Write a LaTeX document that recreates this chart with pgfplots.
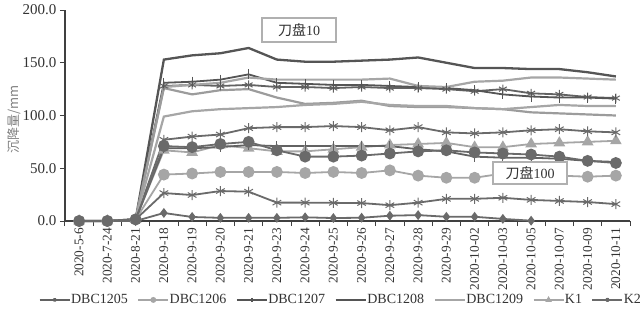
\documentclass[border=0pt]{standalone}
\usepackage{pgfplots}
\pgfplotsset{compat=1.18}
\usepackage{pgfplotstable}
\usepackage{fontspec}
\setmainfont{Liberation Serif}
\newfontfamily\cjk{Noto Sans CJK SC}
\definecolor{axc}{HTML}{404040}
\definecolor{txt}{HTML}{333333}
\definecolor{dkA}{HTML}{555555}
\definecolor{dkB}{HTML}{626262}
\definecolor{dkC}{HTML}{6A6A6A}
\definecolor{lt}{HTML}{A6A6A6}
\definecolor{ltB}{HTML}{9C9C9C}
\definecolor{bx}{HTML}{B0B0B0}
\pgfplotstableread{
x A B C D E F G H I J K L
0 0 0 0 0 0 0 0 0 0 0 0 0
1 0 0 0 0 0 0 0 0 0 0 0 0
2 1.5 1.5 1.5 1.5 1.5 1.5 1.5 1.5 1.5 1.5 1.5 1.5
3 153 127 131 128 126 99 77 69 71 67 44 26.5
4 157 129 132 129 120 104 80 69 70 65 45 24.6
5 159 131 134 128 124 106 82 70 73 72 46.5 28.4
6 164 136 139 129 125 107 88 72 75 69 46.5 27.8
7 153 134 131 127 117 108 89 71 67 66 46.5 17.4
8 151 134 130 127 111 110 89 71 61 66 45.5 17.4
9 151 134 129 126 112 111 90 71 61 68 46.5 17.2
10 152 134 129 127 114 113 89 71 62 70 45.5 17
11 153 135 128 126 109 110 86 71 64 72 48 15
12 155 128 127 126 108 109 89 68 66 73 43 17.4
13 150 127 126 125 108 109 84 66 67 74 41 21
14 145 132 124 123 107 107 83 61 65 70 41 21
15 145 133 120 125 106 106 84 60 64 70 45 22
16 144 136 118 121 103 108 86 60 63 73 44 20
17 144 136 117 120 102 110 87 59 61 74 43 19
18 141 135 117 117.5 101 109 85 57 57 75 42 18
19 137 134 116 116.5 100 109 84 56 55 76 43 16
}\data
\pgfplotstableread{
x M
0 0
1 0
2 0
3 7.6
4 3.8
5 3
6 3
7 3
8 3.5
9 2.8
10 3.1
11 5
12 5.6
13 4
14 4
15 2
16 0.3
}\dataM
\begin{document}
\begin{tikzpicture}
\begin{axis}[
  at={(0,0)}, anchor=south west,
  scale only axis, width=565bp, height=211bp,
  xmin=-0.5, xmax=19.5, ymin=0, ymax=200,
  axis x line*=bottom, axis y line*=left,
  axis line style={draw=axc, line width=1.2bp, -},
  xtick={-0.5,0.5,...,19.5},
  x tick label as interval,
  xticklabels={2020-5-6,2020-7-24,2020-8-21,2020-9-18,2020-9-19,2020-9-20,2020-9-21,2020-9-23,2020-9-24,2020-9-25,2020-9-26,2020-9-27,2020-9-28,2020-9-29,2020-10-02,2020-10-03,2020-10-05,2020-10-07,2020-10-09,2020-10-11},
  x tick label style={rotate=90, anchor=east, font=\fontsize{13.3bp}{13.3bp}\selectfont, text=txt, inner sep=2bp},
  ytick={0,50,...,200},
  y tick label style={/pgf/number format/fixed, /pgf/number format/fixed zerofill, /pgf/number format/precision=1, /pgf/number format/assume math mode=true, font=\fontsize{15bp}{15bp}\selectfont, text=txt},
  tick align=outside, major tick length=5bp,
  tick style={draw=axc, line width=1bp},
  ylabel={\cjk 沉降量/mm},
  ylabel style={at={(axis description cs:-0.09,0.48)}, anchor=center, rotate=0, font=\fontsize{13bp}{13bp}\selectfont, text=gray},
  clip=false,
  legend columns=7,
  legend style={at={(axis description cs:0.487,-0.374)}, anchor=center, draw=none, fill=none,
    font=\fontsize{14bp}{14bp}\selectfont, text=txt, nodes={inner xsep=0.5bp},
    /tikz/every even column/.append style={column sep=9bp}},
  legend image code/.code={\draw[mark repeat=2, mark phase=2, #1, mark options={scale=0.4}] plot coordinates {(0bp,0bp) (15bp,0bp) (30bp,0bp)};},
  every axis plot/.append style={line width=1.8bp},
]
% legend series
\addplot[color=dkB, mark=asterisk, mark size=4.5bp, mark options={line width=1bp}] table[x=x,y=D]{\data};
\addlegendentry{DBC1205}
\addplot[color=lt, mark=*, mark size=5bp] table[x=x,y=K]{\data};
\addlegendentry{DBC1206}
\addplot[color=dkA, mark=|, mark size=5bp, mark options={line width=1bp}] table[x=x,y=C]{\data};
\addlegendentry{DBC1207}
\addplot[color=dkA, line width=2.3bp] table[x=x,y=A]{\data};
\addlegendentry{DBC1208}
\addplot[color=lt, line width=2.2bp] table[x=x,y=B]{\data};
\addlegendentry{DBC1209}
\addplot[color=lt, mark=triangle*, mark size=5bp] table[x=x,y=J]{\data};
\addlegendentry{K1}
\addplot[color=dkC, mark=asterisk, mark size=5bp, mark options={line width=1bp}] table[x=x,y=G]{\data};
\addlegendentry{K2}
% other series
\addplot[forget plot, color=ltB, line width=2.2bp] table[x=x,y=E]{\data};
\addplot[forget plot, color=lt, line width=2.2bp] table[x=x,y=F]{\data};
\addplot[forget plot, color=dkB, mark=|, mark size=5bp, mark options={line width=1bp}] table[x=x,y=H]{\data};
\addplot[forget plot, color=dkC, mark=*, mark size=5bp] table[x=x,y=I]{\data};
\addplot[forget plot, color=dkC, mark=asterisk, mark size=5bp, mark options={line width=1bp}] table[x=x,y=L]{\data};
\addplot[forget plot, color=dkC, mark=diamond*, mark size=3.5bp] table[x=x,y=M]{\dataM};
\coordinate (b1) at (axis cs:7.79,181);
\coordinate (b2) at (axis cs:15.96,45.5);
\end{axis}
% annotation boxes
\node[draw=bx, line width=2bp, fill=white, minimum width=74bp, minimum height=24bp, inner sep=2bp, font=\fontsize{14bp}{14bp}\selectfont, text=txt] at (b1) {{\cjk 刀盘}10};
\node[draw=bx, line width=2bp, fill=white, minimum width=74bp, minimum height=22bp, inner sep=2bp, font=\fontsize{14bp}{14bp}\selectfont, text=txt] at (b2) {{\cjk 刀盘}100};
\pgfresetboundingbox
\path (-65bp,-96bp) rectangle (579bp,221bp);
\end{tikzpicture}
\end{document}
